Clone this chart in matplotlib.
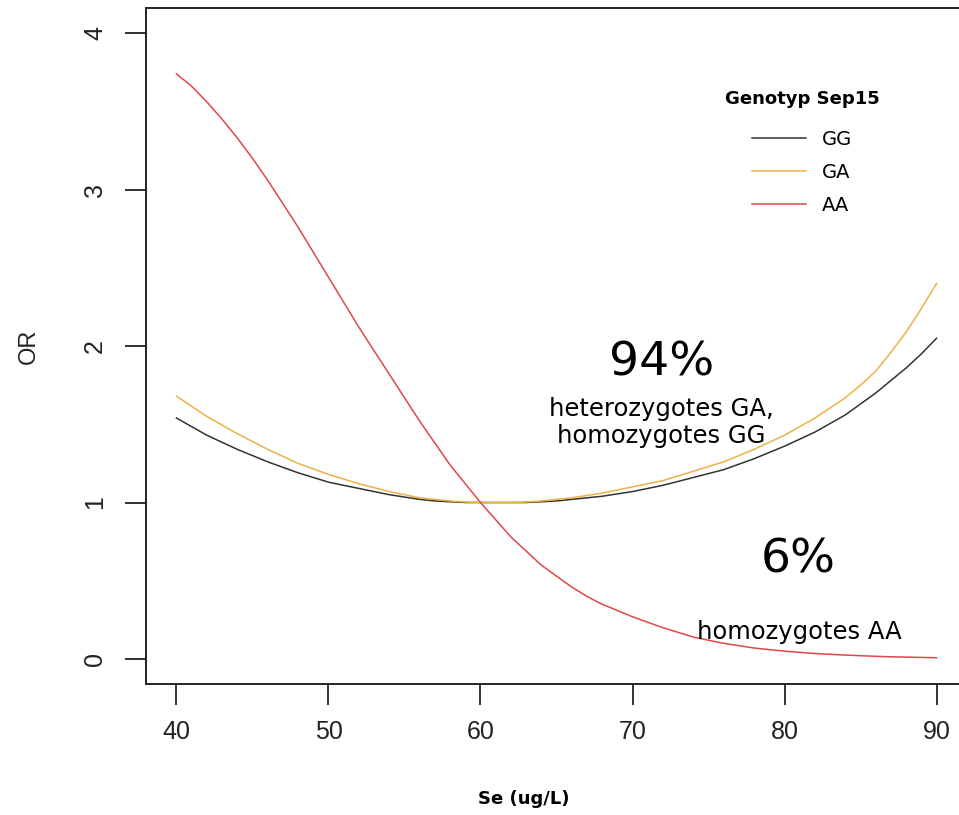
import matplotlib
matplotlib.use("Agg")
import matplotlib.pyplot as plt

se = [40, 41, 42, 43, 44, 45, 46, 47, 48, 49, 50, 51, 52, 53, 54, 55, 56, 57,
      58, 59, 60, 61, 62, 63, 64, 65, 66, 67, 68, 69, 70, 72, 74, 76, 78, 80,
      82, 84, 85, 86, 87, 88, 89, 90]
or_gg = [1.54, 1.485, 1.43, 1.385, 1.34, 1.30, 1.26, 1.225, 1.19, 1.16, 1.13,
         1.11, 1.09, 1.07, 1.05, 1.035, 1.02, 1.01, 1.005, 1.0, 1.0, 1.0, 1.0,
         1.0, 1.005, 1.01, 1.02, 1.03, 1.04, 1.055, 1.07, 1.11, 1.16, 1.21,
         1.28, 1.36, 1.45, 1.56, 1.63, 1.70, 1.78, 1.86, 1.95, 2.05]
or_ga = [1.68, 1.615, 1.55, 1.495, 1.44, 1.39, 1.34, 1.295, 1.25, 1.215, 1.18,
         1.15, 1.12, 1.095, 1.07, 1.05, 1.03, 1.02, 1.01, 1.003, 1.0, 1.0, 1.0,
         1.003, 1.01, 1.02, 1.03, 1.045, 1.06, 1.08, 1.10, 1.14, 1.20, 1.26,
         1.34, 1.43, 1.54, 1.67, 1.75, 1.84, 1.96, 2.09, 2.24, 2.40]
or_aa = [3.74, 3.66, 3.56, 3.45, 3.33, 3.20, 3.06, 2.91, 2.76, 2.60, 2.44, 2.28,
         2.12, 1.97, 1.82, 1.67, 1.52, 1.38, 1.24, 1.12, 1.00, 0.89, 0.78, 0.69,
         0.60, 0.53, 0.46, 0.40, 0.35, 0.31, 0.27, 0.20, 0.14, 0.10, 0.07, 0.05,
         0.035, 0.025, 0.021, 0.017, 0.014, 0.012, 0.010, 0.008]
labels = ["GG", "GA", "AA"]
colors = ["#333333", "#F0B048", "#E04848"]
x_ticks = [40, 50, 60, 70, 80, 90]
y_ticks = [0, 1, 2, 3, 4]

comic = ["DejaVu Sans"]
fig = plt.figure(figsize=(9.59, 8.15), dpi=100)
ax = fig.add_axes([0.1523, 0.1607, 0.856, 0.8294])

for ys, lab, c in zip([or_gg, or_ga, or_aa], labels, colors):
    ax.plot(se, ys, color=c, lw=1.1, label=lab)

ax.set_xlim(38, 92)
ax.set_ylim(-0.16, 4.16)
ax.set_xticks(x_ticks)
ax.set_yticks(y_ticks)
ax.tick_params(axis="x", length=15, width=1.3, color="#222222",
               labelsize=18, pad=11)
ax.tick_params(axis="y", length=15, width=1.3, color="#222222",
               labelsize=18, pad=13)
for lbl in ax.get_xticklabels() + ax.get_yticklabels():
    lbl.set_fontfamily("Liberation Sans")
    lbl.set_color("#222222")
for lbl in ax.get_yticklabels():
    lbl.set_rotation(90)
    lbl.set_va("center")

ax.spines["right"].set_visible(False)
for s in ["left", "bottom", "top"]:
    ax.spines[s].set_linewidth(1.4)
    ax.spines[s].set_color("#222222")

ax.set_ylabel("OR", fontsize=17, family="Liberation Sans", labelpad=31, color="#222222")
fig.text(0.546, 0.008, "Se (ug/L)", fontsize=13, fontweight="bold",
         family=comic, ha="center", va="bottom")

ax.text(71.9, 1.89, "94%", fontsize=34, family=comic, ha="center", va="center")
ax.text(71.9, 1.51, "heterozygotes GA,\nhomozygotes GG", fontsize=17.5,
        family=comic, ha="center", va="center", linespacing=1.15)
ax.text(80.9, 0.63, "6%", fontsize=34, family=comic, ha="center", va="center")
ax.text(81.0, 0.17, "homozygotes AA", fontsize=17.5, family=comic,
        ha="center", va="center")

leg = ax.legend(loc="upper center", bbox_to_anchor=(802 / 959, 1 - 72 / 815),
                bbox_transform=fig.transFigure, frameon=False,
                title="Genotyp Sep15", handlelength=2.8, handletextpad=0.8,
                labelspacing=0.72, prop={"family": comic, "size": 14})
leg.get_title().set_fontweight("bold")
leg.get_title().set_fontsize(13)
leg.get_title().set_fontfamily(comic)
leg._legend_box.sep = 16

fig.savefig("out.png", dpi=100)
